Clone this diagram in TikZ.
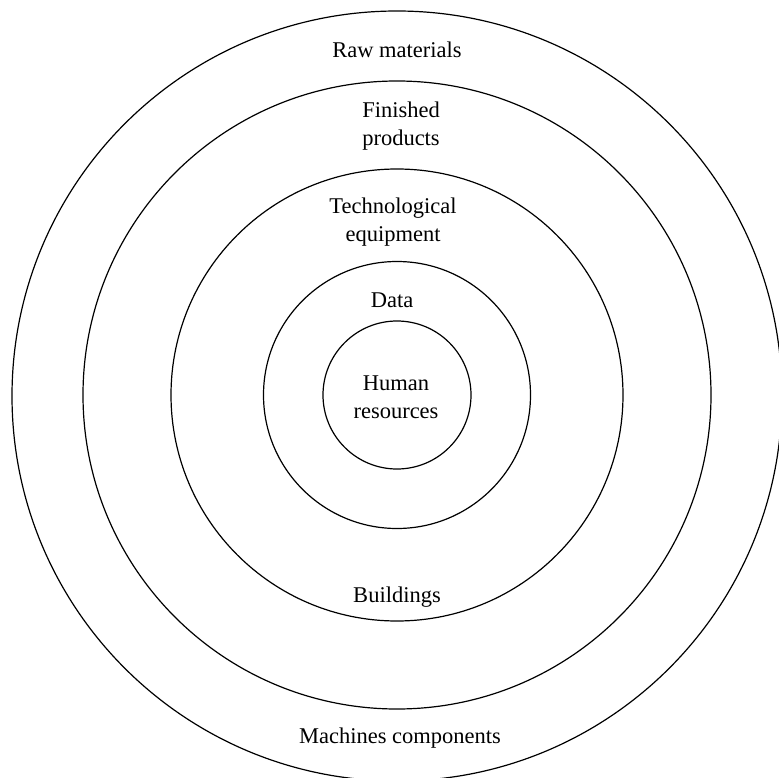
\documentclass[tikz,border=0pt]{standalone}
\usepackage{fontspec}
\setmainfont{Liberation Serif}
\begin{document}
\begin{tikzpicture}[x=1pt,y=-1pt,
  ring/.style={draw=black,line width=1.2pt},
  lbl/.style={font=\fontsize{22.5}{27.5}\selectfont,align=center,inner sep=0pt,text=black}]
\useasboundingbox (0,0) rectangle (779,778);
\clip (0,0) rectangle (779,778);
\coordinate (c) at (397,395);
\draw[ring] (397,396) circle [radius=385];
\draw[ring] (c) circle [radius=314];
\draw[ring] (c) circle [radius=226];
\draw[ring] (c) circle [radius=133.5];
\draw[ring] (c) circle [radius=74];
\node[lbl] (raw) at (397,50) {Raw materials};
\node[lbl] (fin) at (401,126) {Finished\\products};
\node[lbl] (tech) at (393,222) {Technological\\equipment};
\node[lbl] (data) at (392,300) {Data};
\node[lbl] (hum) at (396,397) {Human\\resources};
\node[lbl] (bld) at (397,597) {Buildings};
\node[lbl] (mach) at (400,738) {Machines components};
\end{tikzpicture}
\end{document}
